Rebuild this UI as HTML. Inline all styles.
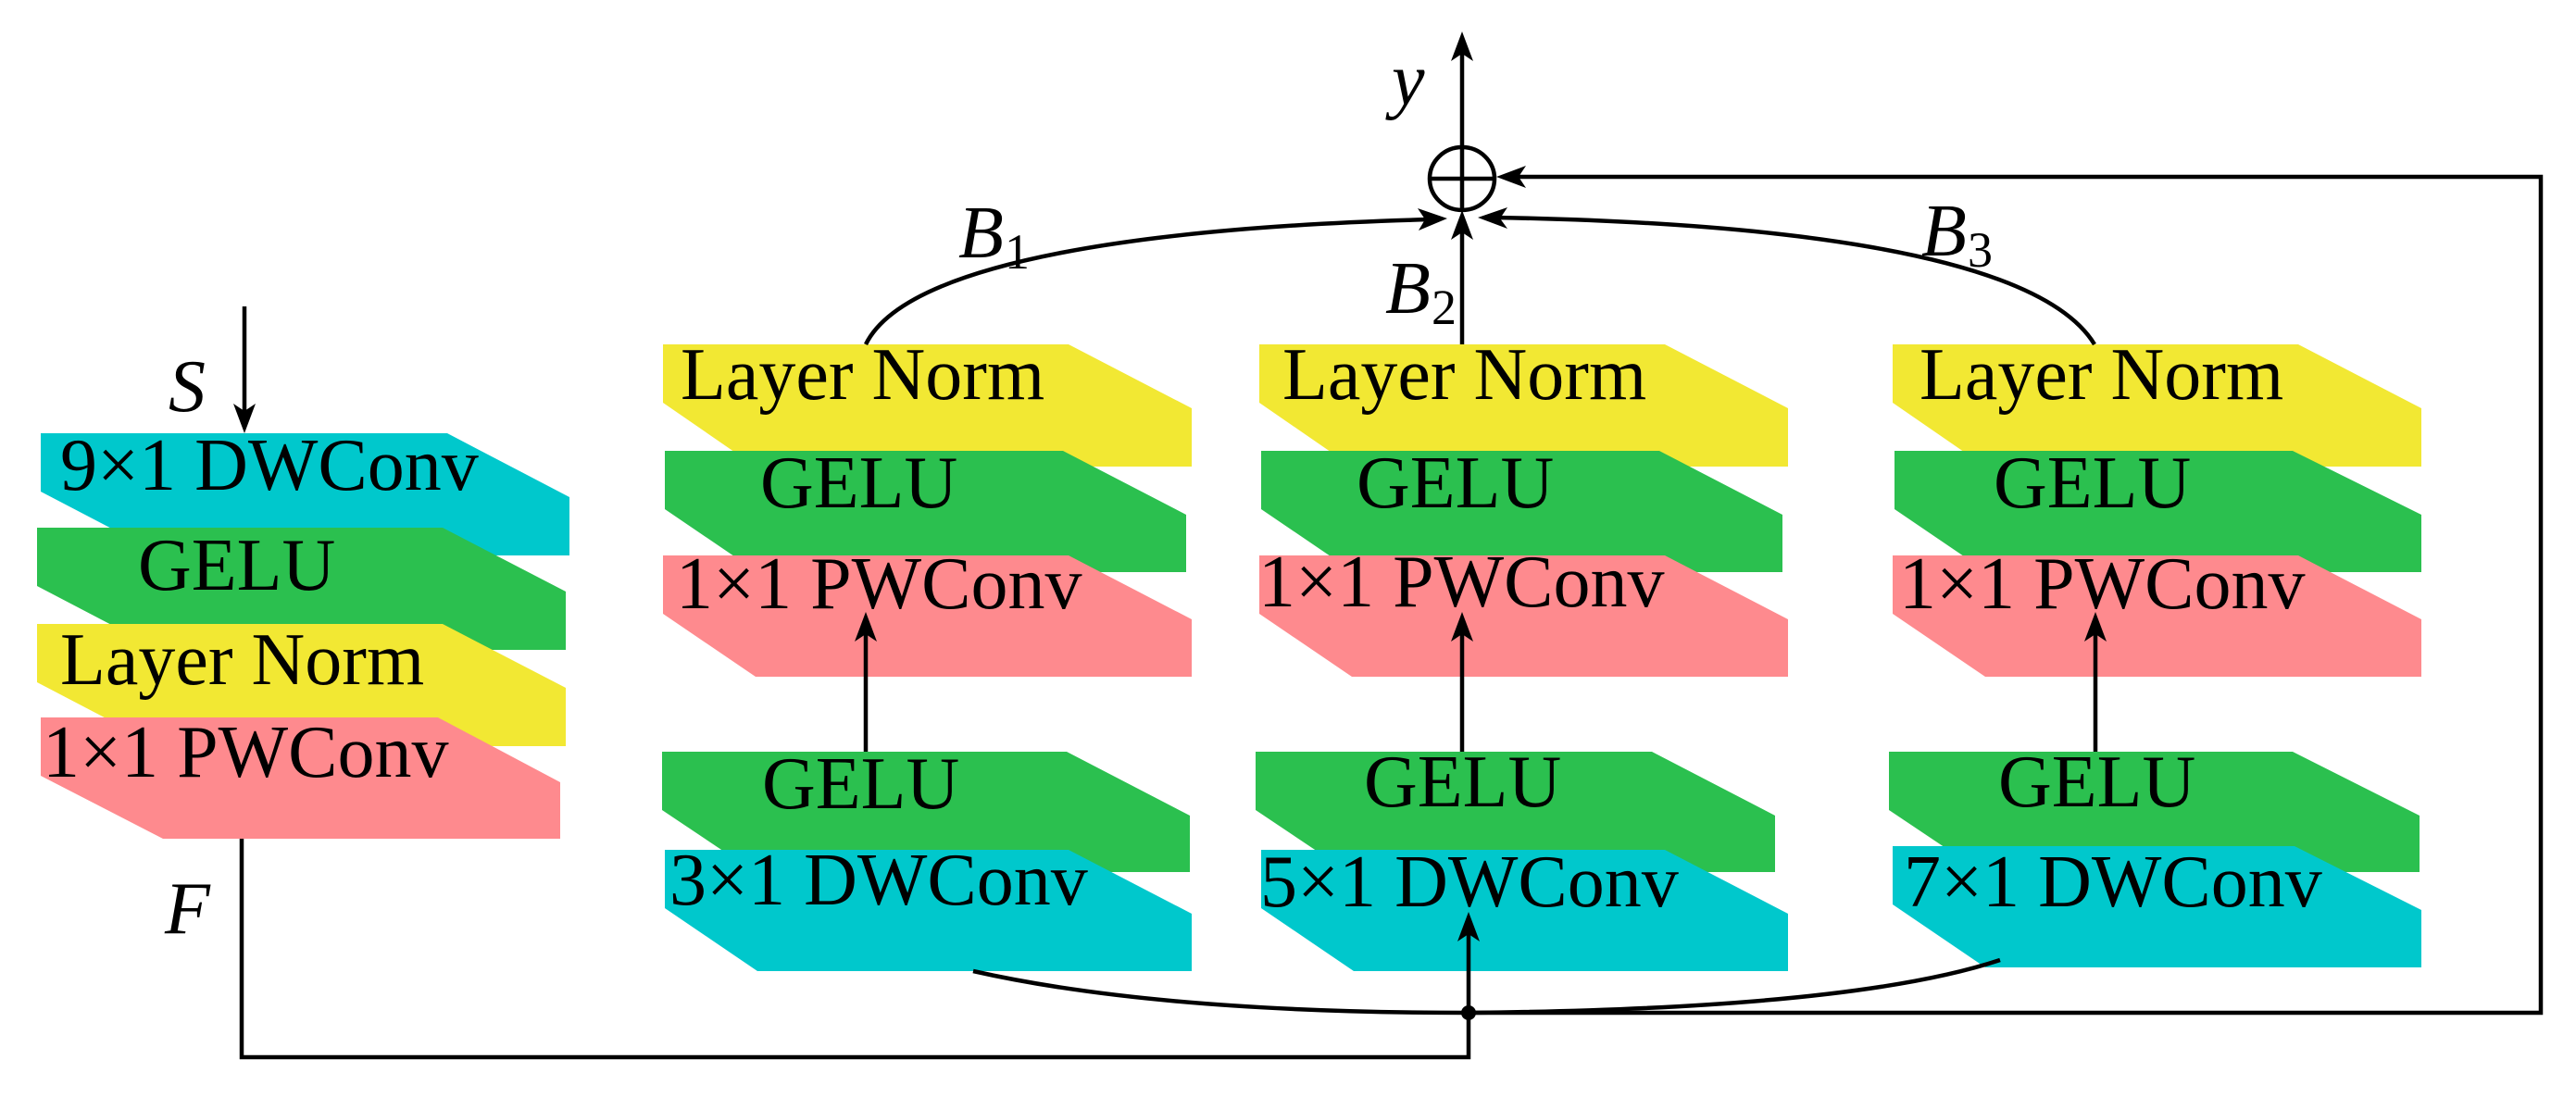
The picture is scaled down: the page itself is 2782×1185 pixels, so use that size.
<!DOCTYPE html>
<html><head><meta charset="utf-8"><style>
html,body{margin:0;padding:0;background:#fff;}
svg{display:block;}
text{font-family:"Liberation Serif",serif;font-size:80px;fill:#000;}
.i{font-style:italic;}
</style></head><body>
<svg width="2782" height="1185" viewBox="0 0 2782 1185" xmlns="http://www.w3.org/2000/svg">
<g id="left">
<polygon points="44,468 483,468 615,537 615,600 176,600 44,531" fill="#00c8cc"/>
<polygon points="40,570 478,570 611,639 611,702 172,702 40,633" fill="#2bc04f"/>
<polygon points="40,674 478,674 611,743 611,806 172,806 40,737" fill="#f2e833"/>
<polygon points="44,775 473,775 605,845 605,906 176,906 44,838" fill="#fe8a8e"/>
<text x="65" y="529">9×1 DWConv</text>
<text x="149" y="637">GELU</text>
<text x="65" y="739">Layer Norm</text>
<text x="46" y="839">1×1 PWConv</text>
</g>
<g>
<polygon points="716,372 1154,372 1287,441 1287,504 816,504 716,435" fill="#f2e833"/>
<polygon points="718,487 1148,487 1281,556 1281,618 818,618 718,550" fill="#2bc04f"/>
<polygon points="716,600 1154,600 1287,669 1287,731 816,731 716,663" fill="#fe8a8e"/>
<polygon points="715,812 1152,812 1285,881 1285,942 815,942 715,875" fill="#2bc04f"/>
<polygon points="718,918 1154,918 1287,987 1287,1049 818,1049 718,981" fill="#00c8cc"/>
<text x="735" y="431">Layer Norm</text>
<text x="821" y="548">GELU</text>
<text x="730" y="657">1×1 PWConv</text>
<text x="823" y="873">GELU</text>
<text x="723" y="977">3×1 DWConv</text>
<line x1="935" y1="812" x2="935" y2="680" stroke="#000" stroke-width="4.5"/>
<polygon points="935,661 923,693 935,685 947,693"/>
</g>
<g transform="translate(644,0)">
<polygon points="716,372 1154,372 1287,441 1287,504 816,504 716,435" fill="#f2e833"/>
<polygon points="718,487 1148,487 1281,556 1281,618 818,618 718,550" fill="#2bc04f"/>
<polygon points="716,600 1154,600 1287,669 1287,731 816,731 716,663" fill="#fe8a8e"/>
<polygon points="712,812 1140,812 1273,881 1273,942 812,942 712,875" fill="#2bc04f"/>
<polygon points="718,918 1154,918 1287,987 1287,1049 818,1049 718,981" fill="#00c8cc"/>
<text x="741" y="431">Layer Norm</text>
<text x="821" y="548">GELU</text>
<text x="715" y="655">1×1 PWConv</text>
<text x="829" y="871">GELU</text>
<text x="717" y="979">5×1 DWConv</text>
<line x1="935" y1="812" x2="935" y2="680" stroke="#000" stroke-width="4.5"/>
<polygon points="935,661 923,693 935,685 947,693"/>
</g>
<g transform="translate(1328,0)">
<polygon points="716,372 1154,372 1287,441 1287,504 816,504 716,435" fill="#f2e833"/>
<polygon points="718,487 1148,487 1287,556 1287,618 818,618 718,550" fill="#2bc04f"/>
<polygon points="716,600 1154,600 1287,669 1287,731 816,731 716,663" fill="#fe8a8e"/>
<polygon points="712,812 1148,812 1285,881 1285,942 812,942 712,875" fill="#2bc04f"/>
<polygon points="716,914 1150,914 1287,983 1287,1045 816,1045 716,977" fill="#00c8cc"/>
<text x="745" y="431">Layer Norm</text>
<text x="825" y="548">GELU</text>
<text x="723" y="657">1×1 PWConv</text>
<text x="830" y="871">GELU</text>
<text x="728" y="979">7×1 DWConv</text>
<line x1="935" y1="812" x2="935" y2="680" stroke="#000" stroke-width="4.5"/>
<polygon points="935,661 923,693 935,685 947,693"/>
</g>
<g fill="none" stroke="#000" stroke-width="4.5">
<line x1="264" y1="331" x2="264" y2="450"/>
<polyline points="261,906 261,1142 1586,1142 1586,1094"/>
<line x1="1586" y1="1094" x2="1586" y2="1005"/>
<polyline points="1586,1094 2744,1094 2744,191 1635,191"/>
<path d="M1051,1049 Q1250,1094 1586,1094"/>
<path d="M2160,1037 Q2000,1090 1586,1094"/>
<ellipse cx="1579" cy="193" rx="35" ry="34"/>
<line x1="1546" y1="193" x2="1612" y2="193"/>
<line x1="1579" y1="160" x2="1579" y2="226"/>
<line x1="1579" y1="159" x2="1579" y2="55"/>
<line x1="1579" y1="372" x2="1579" y2="245"/>
<path d="M935,372 C980,280 1250,245 1545,237"/>
<path d="M2262,372 C2200,270 1900,240 1614,235"/>
</g>
<g fill="#000">
<polygon points="264,468 252,436 264,444 276,436"/>
<polygon points="1586,985 1574,1017 1586,1009 1598,1017"/>
<polygon points="1616,191 1648,179 1640,191 1648,203"/>
<polygon points="1579,34 1567,66 1579,58 1591,66"/>
<polygon points="1579,227 1567,259 1579,251 1591,259"/>
<polygon points="1563,236 1531,225 1539,237 1532,249"/>
<polygon points="1596,235 1628,224 1620,236 1628,247"/>
</g>
<circle cx="1586" cy="1094" r="8" fill="#000"/>
<text x="182" y="444" class="i">S</text>
<text x="178" y="1008" class="i">F</text>
<text x="1503" y="113" class="i">y</text>
<text x="1035" y="278" class="i">B</text><text x="1085" y="290" style="font-size:54px">1</text>
<text x="1496" y="338" class="i">B</text><text x="1546" y="350" style="font-size:54px">2</text>
<text x="2075" y="276" class="i">B</text><text x="2125" y="288" style="font-size:54px">3</text>
</svg>
</body></html>
